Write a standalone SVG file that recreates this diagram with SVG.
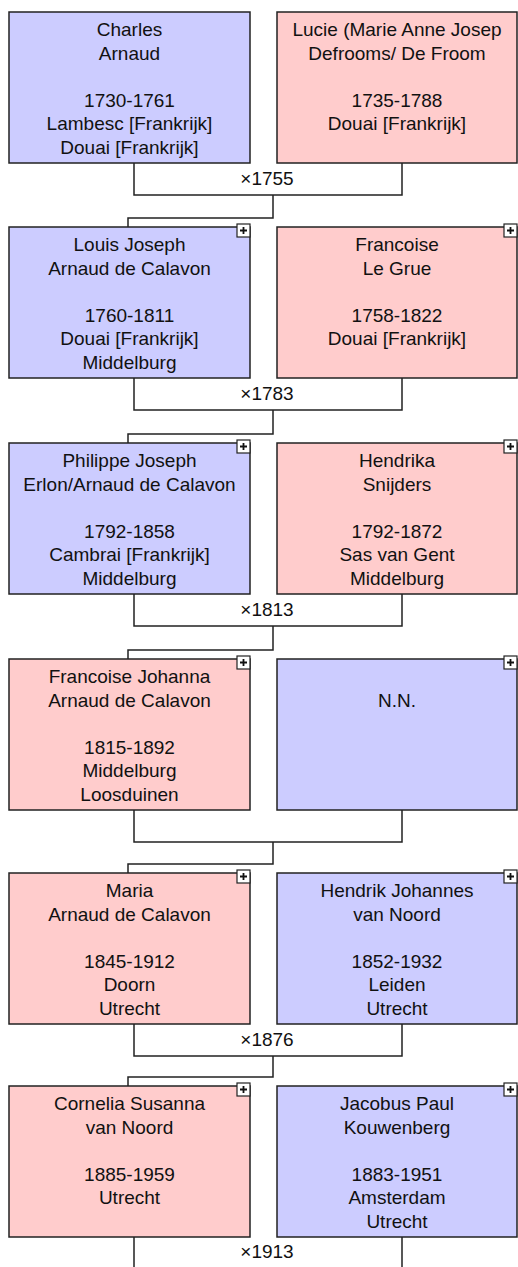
<svg xmlns="http://www.w3.org/2000/svg" width="518" height="1267" viewBox="0 0 518 1267">
<style>
.m{fill:#CCCCFF;stroke:#222;stroke-width:1.5}
.f{fill:#FFCCCC;stroke:#222;stroke-width:1.5}
.t{font-family:"Liberation Sans",Arial,sans-serif;font-size:19px;fill:#111;text-anchor:middle}
.c{fill:none;stroke:#222;stroke-width:1.5}
.pb{fill:#fff;stroke:#222;stroke-width:1.2}
.pl{stroke:#111;stroke-width:1.8}
</style>
<defs>
<g id="plus"><rect class="pb" x="0" y="0" width="13" height="13"/><path class="pl" d="M3,6.5H10M6.5,3V10"/></g>
</defs>
<g id="connectors">
<path class="c" d="M134,163V195H402V163M273,195V218H128V227"/>
<path class="c" d="M134,378V410H402V378M273,410V434H128V443"/>
<path class="c" d="M134,594V626H402V594M273,626V650H128V659"/>
<path class="c" d="M134,810V842H402V810M273,842V864H128V873"/>
<path class="c" d="M134,1024V1056H402V1024M273,1056V1077H128V1086"/>
<path class="c" d="M134,1237V1267M402,1237V1267"/>
<text class="t" x="267" y="185">×1755</text>
<text class="t" x="267" y="400">×1783</text>
<text class="t" x="267" y="616">×1813</text>
<text class="t" x="267" y="1046">×1876</text>
<text class="t" x="267" y="1258">×1913</text>
</g>
<g id="charles">
<rect class="m" x="9" y="12" width="241" height="151"/>
<text class="t" x="129.5" y="36">Charles</text>
<text class="t" x="129.5" y="59.5">Arnaud</text>
<text class="t" x="129.5" y="106.5">1730-1761</text>
<text class="t" x="129.5" y="130">Lambesc [Frankrijk]</text>
<text class="t" x="129.5" y="153.5">Douai [Frankrijk]</text>
</g>
<g id="lucie">
<rect class="f" x="277" y="12" width="240" height="151"/>
<text class="t" x="397" y="36">Lucie (Marie Anne Josep</text>
<text class="t" x="397" y="59.5">Defrooms/ De Froom</text>
<text class="t" x="397" y="106.5">1735-1788</text>
<text class="t" x="397" y="130">Douai [Frankrijk]</text>
</g>
<g id="louis">
<rect class="m" x="9" y="227" width="241" height="151"/>
<use href="#plus" x="237" y="224"/>
<text class="t" x="129.5" y="251">Louis Joseph</text>
<text class="t" x="129.5" y="274.5">Arnaud de Calavon</text>
<text class="t" x="129.5" y="321.5">1760-1811</text>
<text class="t" x="129.5" y="345">Douai [Frankrijk]</text>
<text class="t" x="129.5" y="368.5">Middelburg</text>
</g>
<g id="francoise">
<rect class="f" x="277" y="227" width="240" height="151"/>
<use href="#plus" x="504" y="224"/>
<text class="t" x="397" y="251">Francoise</text>
<text class="t" x="397" y="274.5">Le Grue</text>
<text class="t" x="397" y="321.5">1758-1822</text>
<text class="t" x="397" y="345">Douai [Frankrijk]</text>
</g>
<g id="philippe">
<rect class="m" x="9" y="443" width="241" height="151"/>
<use href="#plus" x="237" y="440"/>
<text class="t" x="129.5" y="467">Philippe Joseph</text>
<text class="t" x="129.5" y="490.5">Erlon/Arnaud de Calavon</text>
<text class="t" x="129.5" y="537.5">1792-1858</text>
<text class="t" x="129.5" y="561">Cambrai [Frankrijk]</text>
<text class="t" x="129.5" y="584.5">Middelburg</text>
</g>
<g id="hendrika">
<rect class="f" x="277" y="443" width="240" height="151"/>
<use href="#plus" x="504" y="440"/>
<text class="t" x="397" y="467">Hendrika</text>
<text class="t" x="397" y="490.5">Snijders</text>
<text class="t" x="397" y="537.5">1792-1872</text>
<text class="t" x="397" y="561">Sas van Gent</text>
<text class="t" x="397" y="584.5">Middelburg</text>
</g>
<g id="francoise-johanna">
<rect class="f" x="9" y="659" width="241" height="151"/>
<use href="#plus" x="237" y="656"/>
<text class="t" x="129.5" y="683">Francoise Johanna</text>
<text class="t" x="129.5" y="706.5">Arnaud de Calavon</text>
<text class="t" x="129.5" y="753.5">1815-1892</text>
<text class="t" x="129.5" y="777">Middelburg</text>
<text class="t" x="129.5" y="800.5">Loosduinen</text>
</g>
<g id="nn">
<rect class="m" x="277" y="659" width="240" height="151"/>
<use href="#plus" x="504" y="656"/>
<text class="t" x="397" y="706.5">N.N.</text>
</g>
<g id="maria">
<rect class="f" x="9" y="873" width="241" height="151"/>
<use href="#plus" x="237" y="870"/>
<text class="t" x="129.5" y="897">Maria</text>
<text class="t" x="129.5" y="920.5">Arnaud de Calavon</text>
<text class="t" x="129.5" y="967.5">1845-1912</text>
<text class="t" x="129.5" y="991">Doorn</text>
<text class="t" x="129.5" y="1014.5">Utrecht</text>
</g>
<g id="hendrik">
<rect class="m" x="277" y="873" width="240" height="151"/>
<use href="#plus" x="504" y="870"/>
<text class="t" x="397" y="897">Hendrik Johannes</text>
<text class="t" x="397" y="920.5">van Noord</text>
<text class="t" x="397" y="967.5">1852-1932</text>
<text class="t" x="397" y="991">Leiden</text>
<text class="t" x="397" y="1014.5">Utrecht</text>
</g>
<g id="cornelia">
<rect class="f" x="9" y="1086" width="241" height="151"/>
<use href="#plus" x="237" y="1083"/>
<text class="t" x="129.5" y="1110">Cornelia Susanna</text>
<text class="t" x="129.5" y="1133.5">van Noord</text>
<text class="t" x="129.5" y="1180.5">1885-1959</text>
<text class="t" x="129.5" y="1204">Utrecht</text>
</g>
<g id="jacobus">
<rect class="m" x="277" y="1086" width="240" height="151"/>
<use href="#plus" x="504" y="1083"/>
<text class="t" x="397" y="1110">Jacobus Paul</text>
<text class="t" x="397" y="1133.5">Kouwenberg</text>
<text class="t" x="397" y="1180.5">1883-1951</text>
<text class="t" x="397" y="1204">Amsterdam</text>
<text class="t" x="397" y="1227.5">Utrecht</text>
</g>
</svg>
